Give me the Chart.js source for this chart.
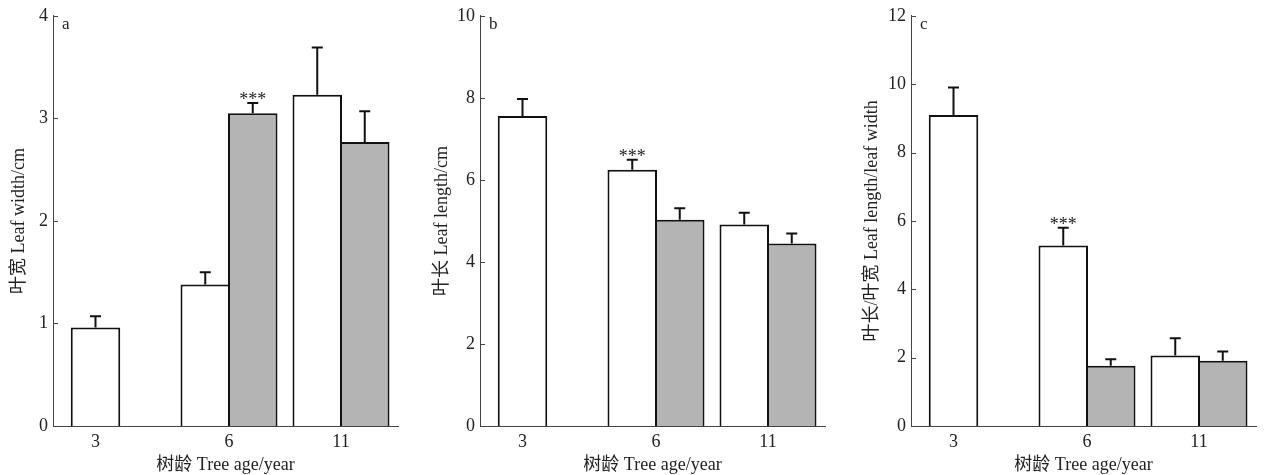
<!DOCTYPE html>
<html>
<head>
<meta charset="utf-8">
<script src="https://cdn.jsdelivr.net/npm/chart.js@4.4.0/dist/chart.umd.min.js"></script>
<style>
  body { margin: 0; background: #fff; width: 1265px; height: 475px; position: relative; overflow: hidden; }
  canvas { position: absolute; top: 0; }
</style>
</head>
<body>
<canvas id="chart-a" width="410" height="475" style="left:0px"></canvas>
<canvas id="chart-b" width="415" height="475" style="left:420px"></canvas>
<canvas id="chart-c" width="425" height="475" style="left:840px"></canvas>
<script>
// tree age groups
const categories = ['3', '6', '11'];

// leaf width (cm)
const widthWhite = [0.96, 1.38, 3.23];
const widthWhiteErr = [0.11, 0.12, 0.46];
const widthGray = [null, 3.05, 2.77];
const widthGrayErr = [null, 0.10, 0.30];
const widthWhiteSig = ['', '', ''];
const widthGraySig = ['', '***', ''];

// leaf length (cm)
const lengthWhite = [7.56, 6.25, 4.91];
const lengthWhiteErr = [0.41, 0.24, 0.29];
const lengthGray = [null, 5.03, 4.45];
const lengthGrayErr = [null, 0.28, 0.24];
const lengthWhiteSig = ['', '***', ''];
const lengthGraySig = ['', '', ''];

// leaf length / leaf width
const ratioWhite = [9.10, 5.28, 2.06];
const ratioWhiteErr = [0.80, 0.52, 0.51];
const ratioGray = [null, 1.76, 1.91];
const ratioGrayErr = [null, 0.19, 0.27];
const ratioWhiteSig = ['', '***', ''];
const ratioGraySig = ['', '', ''];

// x layout (axis runs 0..345)
const groupCenters = [42.5, 176, 288];
const barStep = 47.5;

const FONT = '"Liberation Serif", "Noto Sans CJK SC", serif';
Chart.defaults.font.family = FONT;
Chart.defaults.color = '#222';

const errorBarsPlugin = {
  id: 'errorBars',
  afterDraw(chart) {
    const ctx = chart.ctx;
    const yScale = chart.scales.y;
    const area = chart.chartArea;

    chart.data.datasets.forEach((ds, i) => {
      const meta = chart.getDatasetMeta(i);
      meta.data.forEach((bar, j) => {
        const v = ds.data[j].y;
        const e = ds.errors[j];
        if (v == null || e == null) return;
        const top = yScale.getPixelForValue(v + e);
        ctx.save();
        ctx.strokeStyle = '#111';
        ctx.lineWidth = 2;
        ctx.beginPath();
        ctx.moveTo(bar.x, bar.y);
        ctx.lineTo(bar.x, top);
        ctx.moveTo(bar.x - 5.5, top);
        ctx.lineTo(bar.x + 5.5, top);
        ctx.stroke();
        if (ds.marks[j]) {
          ctx.fillStyle = '#222';
          ctx.font = '18px ' + FONT;
          ctx.textAlign = 'center';
          ctx.textBaseline = 'alphabetic';
          ctx.fillText(ds.marks[j], bar.x, top + 2);
        }
        ctx.restore();
      });
    });

    // inward tick marks on y axis
    ctx.save();
    ctx.strokeStyle = '#444';
    ctx.lineWidth = 1;
    yScale.ticks.forEach(t => {
      const py = Math.round(yScale.getPixelForValue(t.value)) + 0.5;
      ctx.beginPath();
      ctx.moveTo(area.left, py);
      ctx.lineTo(area.left + 5, py);
      ctx.stroke();
    });
    ctx.restore();

    // panel letter
    ctx.save();
    ctx.fillStyle = '#222';
    ctx.font = '17px ' + FONT;
    ctx.textAlign = 'left';
    ctx.textBaseline = 'middle';
    ctx.fillText(chart.options.panelLetter, area.left + 9, area.top + 9);
    ctx.restore();
  }
};

function placeSeries(white, gray) {
  // white bar sits left of centre when a gray bar shares the group
  const w = { data: [], errors: [], marks: [] };
  const g = { data: [], errors: [], marks: [] };
  categories.forEach((c, i) => {
    const hasGray = gray.values[i] != null;
    w.data.push({ x: hasGray ? groupCenters[i] - barStep / 2 : groupCenters[i], y: white.values[i] });
    w.errors.push(white.errs[i]);
    w.marks.push(white.sigs[i]);
    if (hasGray) {
      g.data.push({ x: groupCenters[i] + barStep / 2, y: gray.values[i] });
      g.errors.push(gray.errs[i]);
      g.marks.push(gray.sigs[i]);
    }
  });
  return [w, g];
}

function makeChart(id, cfg) {
  const [w, g] = placeSeries(cfg.white, cfg.gray);
  const barStyle = {
    borderColor: '#111',
    borderWidth: 2,
    borderSkipped: 'bottom',
    categoryPercentage: 1,
    barPercentage: (barStep + 2) / barStep
  };
  return new Chart(document.getElementById(id), {
    type: 'bar',
    data: {
      datasets: [
        Object.assign({ label: 'white', data: w.data, errors: w.errors, marks: w.marks, backgroundColor: '#ffffff' }, barStyle),
        Object.assign({ label: 'gray', data: g.data, errors: g.errors, marks: g.marks, backgroundColor: '#b4b4b4' }, barStyle)
      ]
    },
    options: {
      responsive: false,
      animation: false,
      panelLetter: cfg.letter,
      layout: { padding: { top: 15, right: cfg.padRight, left: 0, bottom: 0 } },
      plugins: { legend: { display: false }, tooltip: { enabled: false } },
      scales: {
        x: {
          type: 'linear',
          min: 0,
          max: 345,
          offset: false,
          stacked: true,
          grid: { display: false, drawTicks: false },
          border: { display: true, color: '#444', width: 1 },
          afterBuildTicks(scale) {
            scale.ticks = groupCenters.map(v => ({ value: v }));
          },
          afterFit(scale) { scale.height = 49; },
          ticks: {
            autoSkip: false,
            maxRotation: 0,
            padding: 5,
            color: '#222',
            font: { size: 18 },
            callback: (value, index) => categories[index]
          },
          title: {
            display: true,
            text: '树龄 Tree age/year',
            color: '#222',
            font: { size: 18 },
            padding: { top: 0, bottom: -1 }
          }
        },
        y: {
          min: 0,
          max: cfg.max,
          stacked: true,
          grid: { display: false, drawTicks: false },
          border: { display: true, color: '#444', width: 1 },
          afterFit(scale) { scale.width = cfg.yWidth; },
          ticks: {
            stepSize: cfg.step,
            padding: 5,
            color: '#222',
            font: { size: 18 }
          },
          title: {
            display: true,
            text: cfg.yTitle,
            color: '#222',
            font: { size: 18 },
            padding: { top: cfg.titlePad, bottom: 0 }
          }
        }
      }
    },
    plugins: [errorBarsPlugin]
  });
}

makeChart('chart-a', {
  letter: 'a', max: 4, step: 1, yWidth: 53, padRight: 12, titlePad: 8,
  yTitle: '叶宽 Leaf width/cm',
  white: { values: widthWhite, errs: widthWhiteErr, sigs: widthWhiteSig },
  gray: { values: widthGray, errs: widthGrayErr, sigs: widthGraySig }
});

makeChart('chart-b', {
  letter: 'b', max: 10, step: 2, yWidth: 60, padRight: 10, titlePad: 11,
  yTitle: '叶长 Leaf length/cm',
  white: { values: lengthWhite, errs: lengthWhiteErr, sigs: lengthWhiteSig },
  gray: { values: lengthGray, errs: lengthGrayErr, sigs: lengthGraySig }
});

makeChart('chart-c', {
  letter: 'c', max: 12, step: 2, yWidth: 71, padRight: 9, titlePad: 21,
  yTitle: '叶长/叶宽 Leaf length/leaf width',
  white: { values: ratioWhite, errs: ratioWhiteErr, sigs: ratioWhiteSig },
  gray: { values: ratioGray, errs: ratioGrayErr, sigs: ratioGraySig }
});
</script>
</body>
</html>
